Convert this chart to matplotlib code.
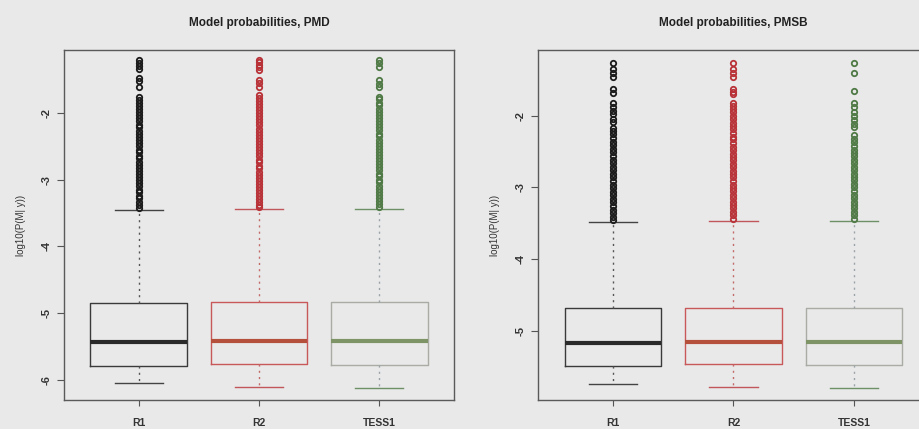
import matplotlib
matplotlib.use("Agg")
import matplotlib.pyplot as plt

plt.rcParams["font.family"] = ["Liberation Sans", "DejaVu Sans"]

groups = ["R1", "R2", "TESS1"]
titles = ["Model probabilities, PMD", "Model probabilities, PMSB"]
ylabel = "log10(P(M| y))"

# five-number summaries per group: lower whisker, Q1, median, Q3, upper whisker
pmd_whislo = [-6.05, -6.11, -6.12]
pmd_q1 = [-5.79, -5.76, -5.77]
pmd_med = [-5.43, -5.42, -5.42]
pmd_q3 = [-4.85, -4.84, -4.84]
pmd_whishi = [-3.45, -3.44, -3.44]

pmsb_whislo = [-5.75, -5.79, -5.80]
pmsb_q1 = [-5.50, -5.47, -5.48]
pmsb_med = [-5.18, -5.16, -5.16]
pmsb_q3 = [-4.69, -4.68, -4.68]
pmsb_whishi = [-3.48, -3.47, -3.47]

# outliers above the upper whisker
pmd_r1_out = [-1.21, -1.25, -1.30, -1.34, -1.48, -1.53, -1.61,
              -1.77, -1.81, -1.86, -1.90, -1.95, -1.99, -2.04, -2.08, -2.13,
              -2.18, -2.22, -2.27, -2.31, -2.36, -2.41, -2.45, -2.50, -2.55,
              -2.59, -2.64, -2.68, -2.73, -2.78, -2.82, -2.87, -2.91, -2.96,
              -3.01, -3.05, -3.10, -3.15, -3.19, -3.24, -3.28, -3.33, -3.38,
              -3.42]
pmd_r2_out = [-1.21, -1.24, -1.28, -1.32, -1.36, -1.51, -1.56, -1.62,
              -1.73, -1.78, -1.82, -1.87, -1.91, -1.96, -2.01, -2.05, -2.10,
              -2.14, -2.19, -2.24, -2.28, -2.33, -2.37, -2.42, -2.47, -2.51,
              -2.56, -2.60, -2.65, -2.70, -2.74, -2.79, -2.83, -2.88, -2.93,
              -2.97, -3.02, -3.06, -3.11, -3.16, -3.20, -3.25, -3.29, -3.34,
              -3.38, -3.41]
pmd_tess1_out = [-1.21, -1.26, -1.31, -1.51, -1.57, -1.62,
                 -1.76, -1.80, -1.85, -1.89, -1.94, -1.99, -2.03, -2.08, -2.12,
                 -2.17, -2.22, -2.26, -2.31, -2.35, -2.40, -2.45, -2.49, -2.54,
                 -2.58, -2.63, -2.68, -2.72, -2.77, -2.81, -2.86, -2.91, -2.95,
                 -3.00, -3.04, -3.09, -3.14, -3.18, -3.23, -3.27, -3.32, -3.37,
                 -3.41]

pmsb_r1_out = [-1.26, -1.35, -1.40, -1.46, -1.63, -1.68,
               -1.82, -1.87, -1.93, -1.98, -2.04, -2.09,
               -2.17, -2.21, -2.26, -2.31, -2.36, -2.41, -2.46, -2.51, -2.56,
               -2.61, -2.66, -2.71, -2.76, -2.81, -2.86, -2.91, -2.96, -3.01,
               -3.06, -3.11, -3.16, -3.21, -3.26, -3.31, -3.36, -3.41, -3.45]
pmsb_r2_out = [-1.26, -1.35, -1.40, -1.46, -1.63, -1.67, -1.70,
               -1.82, -1.86, -1.91, -1.95, -2.00, -2.05, -2.10, -2.14, -2.19,
               -2.24, -2.29, -2.33, -2.38, -2.43, -2.48, -2.53, -2.57, -2.62,
               -2.67, -2.72, -2.77, -2.81, -2.86, -2.91, -2.96, -3.01, -3.05,
               -3.10, -3.15, -3.20, -3.25, -3.29, -3.34, -3.39, -3.44]
pmsb_tess1_out = [-1.26, -1.40, -1.65,
                  -1.82, -1.88, -1.94, -2.00, -2.06, -2.11, -2.15,
                  -2.27, -2.32, -2.37, -2.42, -2.47, -2.52, -2.56, -2.61, -2.66,
                  -2.71, -2.76, -2.81, -2.86, -2.90, -2.95, -3.00, -3.05, -3.10,
                  -3.15, -3.20, -3.24, -3.29, -3.34, -3.39, -3.44]

pmd_ylim = (-6.30, -1.06)
pmsb_ylim = (-5.97, -1.08)
pmd_ticks = [-6, -5, -4, -3, -2]
pmsb_ticks = [-5, -4, -3, -2]

point_cols = ["#1a1a1a", "#b83238", "#4f7a45"]
border_cols = ["#3a3a3a", "#c8585a", "#a8aca4"]
median_cols = ["#2a2a2a", "#b4503c", "#7f9466"]
whisker_cols = ["#555555", "#c46a6a", "#9aa3a8"]
page = "#e9e9e9"


def draw_panel(ax, title, whislo, q1, med, q3, whishi, outs, ylim, ticks):
    for i in range(3):
        stats = [dict(whislo=whislo[i], q1=q1[i], med=med[i], q3=q3[i],
                      whishi=whishi[i], fliers=outs[i])]
        ax.bxp(stats, positions=[i + 1], widths=0.8, showfliers=True,
               boxprops=dict(color=border_cols[i], lw=1.0),
               medianprops=dict(color=median_cols[i], lw=3.0, solid_capstyle="butt"),
               whiskerprops=dict(color=whisker_cols[i], lw=1.0, ls=(0, (1.5, 3))),
               capprops=dict(color=point_cols[i], lw=1.0, alpha=0.8),
               capwidths=0.4,
               flierprops=dict(marker="o", markersize=3.9, markerfacecolor="none",
                               markeredgecolor=point_cols[i], markeredgewidth=1.3))
    ax.set_xlim(0.38, 3.62)
    ax.set_ylim(*ylim)
    ax.set_facecolor(page)
    for s in ax.spines.values():
        s.set_color("#5a5a5a")
        s.set_linewidth(1.0)
    ax.set_xticks([1, 2, 3])
    ax.set_xticklabels(groups, fontsize=7.5, fontweight="bold", color="#333333")
    ax.set_yticks(ticks)
    ax.set_yticklabels([str(t) for t in ticks], rotation=90, va="center",
                       fontsize=8, fontweight="bold", color="#333333")
    ax.tick_params(axis="y", length=5, width=0.8, color="#555555", pad=4)
    ax.tick_params(axis="x", length=4, width=0.8, color="#555555", pad=9)
    ax.set_ylabel(ylabel, fontsize=7, color="#333333", labelpad=11)
    ax.set_title(title, fontsize=8.5, fontweight="bold", color="#222222", pad=17)


fig = plt.figure(figsize=(9.19, 4.29), dpi=100, facecolor=page)
ax1 = fig.add_axes([0.0696, 0.0676, 0.4244, 0.8158])
ax2 = fig.add_axes([0.5854, 0.0676, 0.4255, 0.8158])

draw_panel(ax1, titles[0], pmd_whislo, pmd_q1, pmd_med, pmd_q3, pmd_whishi,
           [pmd_r1_out, pmd_r2_out, pmd_tess1_out], pmd_ylim, pmd_ticks)
draw_panel(ax2, titles[1], pmsb_whislo, pmsb_q1, pmsb_med, pmsb_q3, pmsb_whishi,
           [pmsb_r1_out, pmsb_r2_out, pmsb_tess1_out], pmsb_ylim, pmsb_ticks)

fig.savefig("out.png", dpi=100, facecolor=page)
